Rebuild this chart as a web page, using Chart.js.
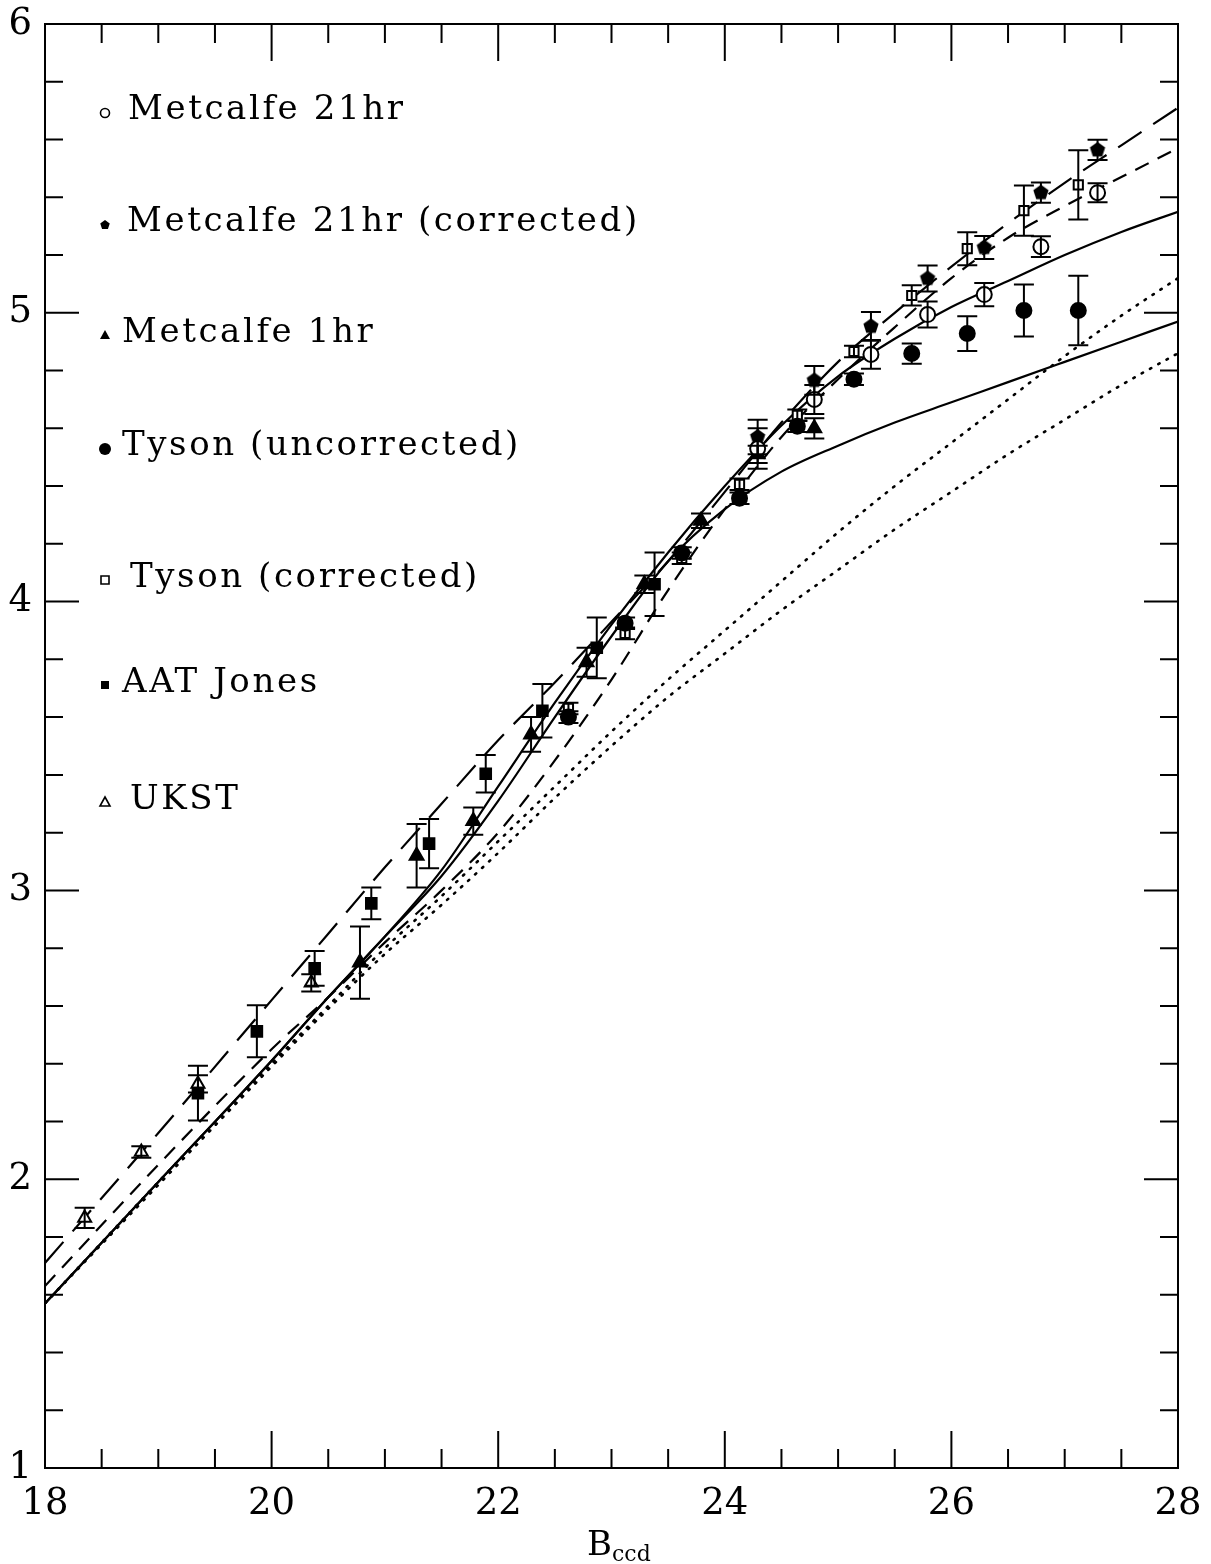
<!DOCTYPE html>
<html>
<head>
<meta charset="utf-8">
<script src="https://cdn.jsdelivr.net/npm/chart.js@4.4.1/dist/chart.umd.min.js"></script>
<style>
  html, body { margin: 0; padding: 0; background: #fff; }
  #wrap { width: 1211px; height: 1564px; }
</style>
</head>
<body>
<div id="wrap"><canvas id="counts" width="1211" height="1564"></canvas></div>
<script>
// log N vs B_ccd

// Metcalfe 21hr (open circles) and corrected (filled pentagons)
const metcalfe21Mag = [24.29, 24.79, 25.29, 25.79, 26.29, 26.79, 27.29];
const metcalfe21 = [4.53, 4.70, 4.856, 4.994, 5.063, 5.229, 5.416];
const metcalfe21Err = [0.07, 0.05, 0.05, 0.045, 0.04, 0.036, 0.033];
const metcalfe21Corr = [4.57, 4.766, 4.953, 5.119, 5.226, 5.416, 5.564];
const metcalfe21CorrErr = [0.06, 0.05, 0.05, 0.045, 0.04, 0.035, 0.035];

// Metcalfe 1hr (filled triangles)
const metcalfe1Mag = [20.78, 21.28, 21.78, 22.29, 22.78, 23.29, 23.79, 24.29, 24.79];
const metcalfe1 = [2.75, 3.12, 3.24, 3.54, 3.79, 4.06, 4.28, 4.51, 4.60];
const metcalfe1Err = [0.125, 0.11, 0.047, 0.06, 0.05, 0.03, 0.025, 0.03, 0.035];

// Tyson, uncorrected (filled circles) and corrected (open squares)
const tysonMag = [22.62, 23.12, 23.62, 24.13, 24.64, 25.14, 25.65, 26.14, 26.64, 27.12];
const tysonRaw = [3.60, 3.925, 4.168, 4.358, 4.607, 4.77, 4.859, 4.928, 5.008, 5.008];
const tysonRawErr = [0.02, 0.02, 0.02, 0.02, 0.02, 0.02, 0.035, 0.06, 0.09, 0.12];
const tysonCorr = [3.63, 3.89, 4.15, 4.406, 4.645, 4.866, 5.06, 5.222, 5.354, 5.443];
const tysonCorrErr = [0.02, 0.02, 0.02, 0.02, 0.02, 0.02, 0.035, 0.057, 0.087, 0.12];

// AAT Jones (filled squares)
const aatMag = [19.35, 19.87, 20.38, 20.88, 21.39, 21.89, 22.39, 22.87, 23.38];
const aat = [2.298, 2.512, 2.73, 2.955, 3.162, 3.404, 3.622, 3.84, 4.06];
const aatErr = [0.095, 0.09, 0.06, 0.055, 0.085, 0.065, 0.093, 0.105, 0.11];

// UKST (open triangles)
const ukstMag = [18.35, 18.85, 19.35, 20.35];
const ukst = [1.866, 2.094, 2.33, 2.68];
const ukstErr = [0.035, 0.02, 0.03, 0.03];

// model curves
const modelMag = [18, 19, 20, 20.5, 21, 21.5, 22, 22.5, 23, 23.5, 24, 24.5, 25, 25.5, 26, 26.5, 27, 27.5, 28];
const modelLongDash = [1.71, 2.16, 2.62, 2.85, 3.08, 3.30, 3.52, 3.72, 3.93, 4.14, 4.38, 4.62, 4.83, 5.00, 5.16, 5.31, 5.45, 5.58, 5.71];
const modelShortDash = [1.63, 2.05, 2.45, 2.63, 2.82, 3.00, 3.20, 3.45, 3.73, 4.04, 4.32, 4.57, 4.77, 4.95, 5.12, 5.26, 5.37, 5.47, 5.57];
const modelSolidUpper = [1.57, 1.99, 2.41, 2.63, 2.84, 3.07, 3.36, 3.65, 3.92, 4.17, 4.40, 4.61, 4.78, 4.91, 5.02, 5.11, 5.20, 5.28, 5.35];
const modelSolidLower = [1.57, 1.99, 2.41, 2.63, 2.84, 3.05, 3.31, 3.60, 3.88, 4.14, 4.32, 4.45, 4.54, 4.62, 4.69, 4.76, 4.83, 4.90, 4.97];
const modelDotUpper = [1.57, 1.99, 2.40, 2.60, 2.80, 2.98, 3.17, 3.36, 3.55, 3.73, 3.90, 4.07, 4.24, 4.40, 4.55, 4.70, 4.85, 4.99, 5.12];
const modelDotLower = [1.57, 1.98, 2.39, 2.59, 2.78, 2.95, 3.13, 3.32, 3.50, 3.67, 3.82, 3.97, 4.11, 4.25, 4.38, 4.51, 4.63, 4.75, 4.86];

const xMajor = [18, 20, 22, 24, 26, 28];
const yMajor = [1, 2, 3, 4, 5, 6];

const legendLabels = [
  "Metcalfe 21hr",
  "Metcalfe 21hr (corrected)",
  "Metcalfe 1hr",
  "Tyson (uncorrected)",
  "Tyson (corrected)",
  "AAT Jones",
  "UKST"
];

const SERIF = "'DejaVu Serif', 'Liberation Serif', serif";

const pts = (xs, ys) => xs.map((x, i) => ({ x: x, y: ys[i] }));

// filled pentagon used for the corrected Metcalfe 21hr points
function pentagon(r) {
  const c = document.createElement("canvas");
  c.width = c.height = Math.ceil(2 * r + 2);
  const g = c.getContext("2d");
  g.beginPath();
  for (let k = 0; k < 5; k++) {
    const a = -Math.PI / 2 + k * 2 * Math.PI / 5;
    const px = c.width / 2 + r * Math.cos(a);
    const py = c.height / 2 + r * Math.sin(a);
    if (k === 0) g.moveTo(px, py); else g.lineTo(px, py);
  }
  g.closePath();
  g.fillStyle = "#000";
  g.fill();
  return c;
}

function curve(ys, dash, width) {
  return {
    type: "line",
    data: pts(modelMag, ys),
    borderColor: "#000",
    borderWidth: width || 2.2,
    borderDash: dash,
    borderCapStyle: dash.length && dash[0] < 4 ? "round" : "butt",
    pointRadius: 0,
    fill: false,
    showLine: true,
    cubicInterpolationMode: "monotone",
    order: 2
  };
}

function markers(xs, ys, errs, style, filled, r) {
  return {
    type: "scatter",
    data: pts(xs, ys),
    errors: errs,
    pointStyle: style,
    pointRadius: r,
    pointBorderWidth: 2,
    pointBackgroundColor: filled ? "#000" : "#fff",
    pointBorderColor: "#000",
    order: 1
  };
}

const datasets = [
  markers(metcalfe21Mag, metcalfe21, metcalfe21Err, "circle", false, 7.5),
  markers(metcalfe21Mag, metcalfe21Corr, metcalfe21CorrErr, pentagon(8), true, 8),
  markers(metcalfe1Mag, metcalfe1, metcalfe1Err, "triangle", true, 8),
  markers(tysonMag, tysonRaw, tysonRawErr, "circle", true, 7.5),
  markers(tysonMag, tysonCorr, tysonCorrErr, "rect", false, 6.5),
  markers(aatMag, aat, aatErr, "rect", true, 7.5),
  markers(ukstMag, ukst, ukstErr, "triangle", false, 7.5),
  curve(modelLongDash, [28, 14]),
  curve(modelShortDash, [15, 10]),
  curve(modelSolidUpper, []),
  curve(modelSolidLower, []),
  curve(modelDotUpper, [1.5, 8], 2.6),
  curve(modelDotLower, [1.5, 8], 2.6)
];

// vertical error bars with caps
const errorBars = {
  id: "errorBars",
  afterDatasetsDraw(chart) {
    const ctx = chart.ctx;
    const y = chart.scales.y;
    ctx.save();
    ctx.strokeStyle = "#000";
    ctx.lineWidth = 2;
    chart.data.datasets.forEach((ds, i) => {
      if (!ds.errors) return;
      const meta = chart.getDatasetMeta(i);
      meta.data.forEach((el, j) => {
        const e = ds.errors[j];
        const v = ds.data[j].y;
        const top = y.getPixelForValue(v + e);
        const bot = y.getPixelForValue(v - e);
        ctx.beginPath();
        ctx.moveTo(el.x, top); ctx.lineTo(el.x, bot);
        ctx.moveTo(el.x - 10, top); ctx.lineTo(el.x + 10, top);
        ctx.moveTo(el.x - 10, bot); ctx.lineTo(el.x + 10, bot);
        ctx.stroke();
      });
    });
    ctx.restore();
  }
};

// box with inward ticks on all four sides
const frame = {
  id: "frame",
  afterDraw(chart) {
    const ctx = chart.ctx;
    const a = chart.chartArea;
    const xs = chart.scales.x, ys = chart.scales.y;
    ctx.save();
    ctx.strokeStyle = "#000";
    ctx.lineWidth = 2;
    ctx.strokeRect(a.left, a.top, a.right - a.left, a.bottom - a.top);
    ctx.beginPath();
    for (let v = 18; v <= 28.001; v += 0.5) {
      const px = xs.getPixelForValue(v);
      const len = Math.abs(v - Math.round(v / 2) * 2) < 1e-6 ? 37 : 19;
      ctx.moveTo(px, a.bottom); ctx.lineTo(px, a.bottom - len);
      ctx.moveTo(px, a.top); ctx.lineTo(px, a.top + len);
    }
    for (let v = 1; v <= 6.001; v += 0.2) {
      const py = ys.getPixelForValue(v);
      const len = Math.abs(v - Math.round(v)) < 1e-6 ? 34 : 18;
      ctx.moveTo(a.left, py); ctx.lineTo(a.left + len, py);
      ctx.moveTo(a.right, py); ctx.lineTo(a.right - len, py);
    }
    ctx.stroke();

    // axis title B_ccd
    ctx.fillStyle = "#000";
    ctx.textBaseline = "alphabetic";
    ctx.font = "34px " + SERIF;
    ctx.fillText("B", 587, 1555);
    ctx.font = "22px " + SERIF;
    ctx.fillText("ccd", 612, 1561);
    ctx.restore();
  }
};

// legend in the upper left of the plot
const legendBox = {
  id: "legendBox",
  afterDraw(chart) {
    const ctx = chart.ctx;
    const rows = [
      { y: 110, tx: 128, sym: "circle", fill: false },
      { y: 222, tx: 127, sym: "pentagon", fill: true },
      { y: 333, tx: 122, sym: "triangle", fill: true },
      { y: 446, tx: 122, sym: "circle", fill: true, r: 6 },
      { y: 578, tx: 130, sym: "rect", fill: false },
      { y: 683, tx: 122, sym: "rect", fill: true },
      { y: 800, tx: 130, sym: "triangle", fill: false }
    ];
    ctx.save();
    ctx.strokeStyle = "#000";
    ctx.fillStyle = "#000";
    ctx.lineWidth = 1.6;
    rows.forEach((row, i) => {
      const sx = 105, sy = row.y + 3;
      ctx.beginPath();
      if (row.sym === "circle") {
        ctx.arc(sx, sy, row.r || 4.5, 0, 2 * Math.PI);
      } else if (row.sym === "rect") {
        ctx.rect(sx - 4, sy - 5, 8, 8);
      } else if (row.sym === "triangle") {
        ctx.moveTo(sx, sy - 6); ctx.lineTo(sx + 5, sy + 3); ctx.lineTo(sx - 5, sy + 3); ctx.closePath();
      } else {
        for (let k = 0; k < 5; k++) {
          const t = -Math.PI / 2 + k * 2 * Math.PI / 5;
          const px = sx + 5 * Math.cos(t), py = sy + 5 * Math.sin(t);
          if (k === 0) ctx.moveTo(px, py); else ctx.lineTo(px, py);
        }
        ctx.closePath();
      }
      if (row.fill) ctx.fill(); else ctx.stroke();
      ctx.font = "34px " + SERIF;
      ctx.letterSpacing = "2.6px";
      ctx.textBaseline = "middle";
      ctx.fillText(legendLabels[i], row.tx, row.y);
    });
    ctx.restore();
  }
};

new Chart(document.getElementById("counts").getContext("2d"), {
  type: "scatter",
  data: { datasets: datasets },
  options: {
    responsive: false,
    animation: false,
    devicePixelRatio: 1,
    layout: { padding: { top: 24, right: 33, left: 0, bottom: 0 } },
    plugins: { legend: { display: false }, tooltip: { enabled: false } },
    scales: {
      x: {
        type: "linear",
        min: 18,
        max: 28,
        afterFit(scale) { scale.height = 96; scale.paddingLeft = 0; scale.paddingRight = 0; },
        afterBuildTicks(scale) { scale.ticks = xMajor.map(v => ({ value: v })); },
        grid: { display: false, drawTicks: false },
        border: { display: false },
        ticks: { color: "#000", font: { family: SERIF, size: 37 }, padding: 14, autoSkip: false, maxRotation: 0 }
      },
      y: {
        type: "linear",
        min: 1,
        max: 6,
        afterFit(scale) { scale.width = 45; scale.paddingTop = 0; scale.paddingBottom = 0; },
        afterBuildTicks(scale) { scale.ticks = yMajor.map(v => ({ value: v })); },
        grid: { display: false, drawTicks: false },
        border: { display: false },
        ticks: { color: "#000", font: { family: SERIF, size: 37 }, padding: 13 }
      }
    }
  },
  plugins: [errorBars, frame, legendBox]
});
</script>
</body>
</html>
